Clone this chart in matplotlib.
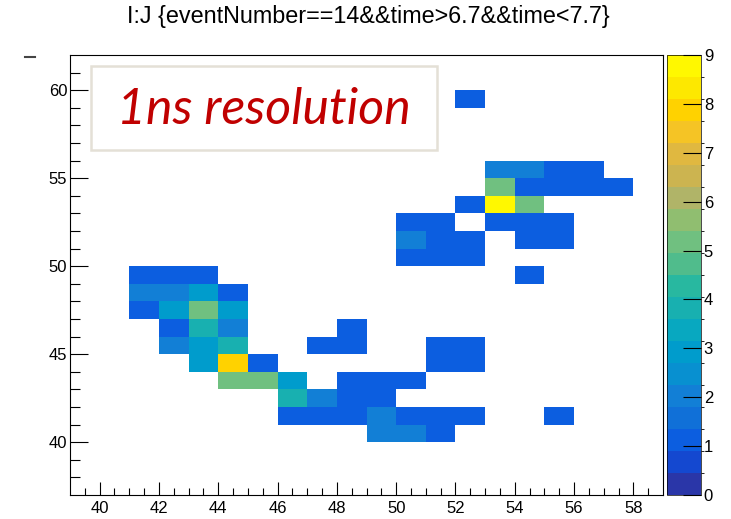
import matplotlib
matplotlib.use('Agg')
import matplotlib.pyplot as plt
from matplotlib.colors import ListedColormap, BoundaryNorm
from matplotlib.patches import Rectangle
from matplotlib.lines import Line2D
import numpy as np

# J (x) and I (y) bin lower edges with their entry counts
j_bins = [52,
          53, 54, 55, 56,
          53, 54, 55, 56, 57,
          52, 53, 54,
          50, 51, 53, 54, 55,
          50, 51, 52, 54, 55,
          50, 51, 52,
          41, 42, 43, 54,
          41, 42, 43, 44,
          41, 42, 43, 44,
          42, 43, 44, 48,
          42, 43, 44, 47, 48, 51, 52,
          43, 44, 45, 51, 52,
          44, 45, 46, 48, 49, 50,
          46, 47, 48, 49,
          46, 47, 48, 49, 50, 51, 52, 55,
          49, 50, 51]
i_bins = [59,
          55, 55, 55, 55,
          54, 54, 54, 54, 54,
          53, 53, 53,
          52, 52, 52, 52, 52,
          51, 51, 51, 51, 51,
          50, 50, 50,
          49, 49, 49, 49,
          48, 48, 48, 48,
          47, 47, 47, 47,
          46, 46, 46, 46,
          45, 45, 45, 45, 45, 45, 45,
          44, 44, 44, 44, 44,
          43, 43, 43, 43, 43, 43,
          42, 42, 42, 42,
          41, 41, 41, 41, 41, 41, 41, 41,
          40, 40, 40]
counts = [1,
          2, 2, 1, 1,
          5, 1, 1, 1, 1,
          1, 9, 5,
          1, 1, 1, 1, 1,
          2, 1, 1, 1, 1,
          1, 1, 1,
          1, 1, 1, 1,
          2, 2, 3, 1,
          1, 3, 5, 3,
          1, 4, 2, 1,
          2, 3, 4, 1, 1, 1, 1,
          3, 8, 1, 1, 1,
          5, 5, 3, 1, 1, 1,
          4, 2, 1, 1,
          1, 1, 1, 2, 1, 1, 1, 1,
          2, 2, 1]

title = 'I:J {eventNumber==14&&time>6.7&&time<7.7}'

# ROOT-like bird palette, 20 contour levels
bird = ['#2a36a8', '#1448d0', '#0c5ee0', '#1070d8', '#127fd6',
        '#0890d0', '#009ccc', '#08a8c0', '#18b0b0', '#28b8a0',
        '#50bc8c', '#70c080', '#90be70', '#b0b468', '#ccb450',
        '#e0b840', '#f5c425', '#ffd200', '#fde800', '#fff800']
cmap = ListedColormap(bird)
norm = BoundaryNorm(np.linspace(0, 9, 21), cmap.N, clip=True)

fig = plt.figure(figsize=(7.31, 5.19), dpi=100)
ax = fig.add_axes([70/731, 1-495/519, 593/731, 440/519])
cax = fig.add_axes([667/731, 1-495/519, 34/731, 440/519])

x = np.array(j_bins) + 0.5
y = np.array(i_bins) + 0.5
h = ax.hist2d(x, y, bins=[np.arange(39, 60), np.arange(37, 63)],
              weights=counts, cmap=cmap, norm=norm, cmin=0.5)

ax.set_xlim(39, 59)
ax.set_ylim(37, 62)
ax.set_xticks(np.arange(40, 59, 2))
ax.set_xticks(np.arange(39.5, 59, 0.5), minor=True)
ax.set_yticks(np.arange(40, 61, 5))
ax.set_yticks(np.arange(38, 62, 1), minor=True)
ax.tick_params(which='both', direction='in', labelsize=12, width=0.8,
               colors='black')
ax.tick_params(axis='x', which='major', length=9.4, pad=4)
ax.tick_params(axis='x', which='minor', length=5)
ax.tick_params(axis='y', which='major', length=13, pad=2)
ax.tick_params(axis='y', which='minor', length=7)
for lab in ax.get_xticklabels() + ax.get_yticklabels():
    lab.set_family('Liberation Sans')
for s in ax.spines.values():
    s.set_linewidth(0.8)

cb = fig.colorbar(h[3], cax=cax, ticks=range(0, 10))
cb.outline.set_linewidth(0.5)
cax.tick_params(direction='in', length=13, width=0.8, labelsize=12, pad=2)
for lab in cax.get_yticklabels():
    lab.set_family('Liberation Sans')

fig.text(368/731, 1-17/519, title, ha='center', va='center',
         fontsize=16.8, family='Liberation Sans')

# annotation box
fig.patches.append(Rectangle((91/731, 1-150/519), 346/731, 84/519,
                             transform=fig.transFigure, facecolor='white',
                             edgecolor='#e4e0d6', linewidth=1.8, zorder=5))
fig.text(264/731, 1-110/519, '1ns resolution', ha='center', va='center',
         fontsize=36, style='italic', color='#c00000', family='Lato',
         zorder=6)

fig.lines.append(Line2D([25/731, 35/731], [1-57/519, 1-57/519],
                        transform=fig.transFigure, color='#444444', lw=1.5))

fig.savefig('out.png', dpi=100)
